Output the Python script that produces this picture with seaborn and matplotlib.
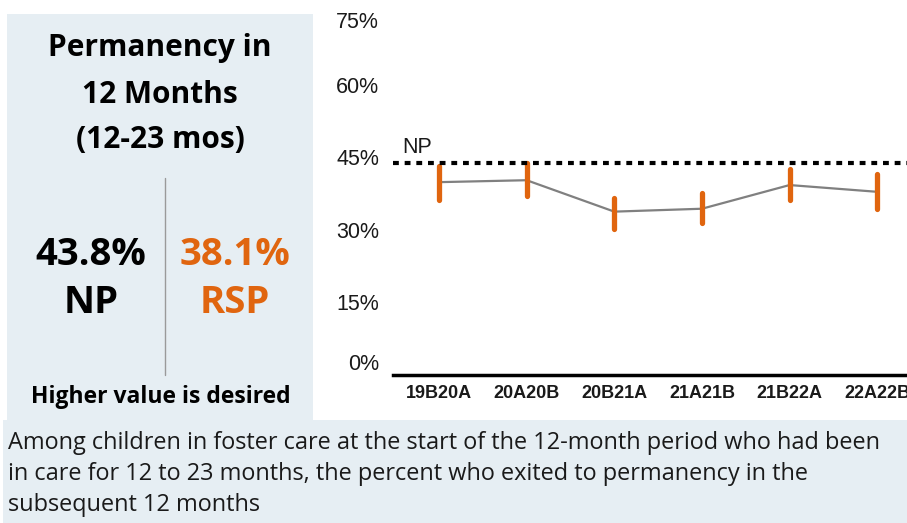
import matplotlib
matplotlib.use("Agg")
import matplotlib.pyplot as plt
from matplotlib.patches import Rectangle
from matplotlib.lines import Line2D
import pandas as pd
import seaborn as sns

# data
periods = ["19B20A", "20A20B", "20B21A", "21A21B", "21B22A", "22A22B"]
rsp = [39.9, 40.3, 33.8, 34.4, 39.3, 37.9]
ci_low = [36.2, 37.0, 30.3, 31.4, 36.2, 34.4]
ci_high = [43.2, 43.8, 36.7, 37.7, 42.6, 41.6]
np_value = 43.8
rsp_value = 38.1
yticks = [0, 15, 30, 45, 60, 75]

ORANGE = "#e0650f"
PANEL = "#e6eef3"
W, H = 907, 523

df = pd.DataFrame({"period": periods, "rsp": rsp, "lo": ci_low, "hi": ci_high})
df["x"] = range(len(df))

sns.set_style("white")
plt.rcParams["font.family"] = ["Liberation Sans", "DejaVu Sans"]
plt.rcParams["text.color"] = "black"

fig = plt.figure(figsize=(W / 100, H / 100), dpi=100)


def fx(px):
    return px / W


def fy(py):
    return 1 - py / H


# background panels
fig.add_artist(Rectangle((fx(7), fy(420)), fx(306), 406 / H, transform=fig.transFigure,
                         facecolor=PANEL, edgecolor="none", zorder=0))
fig.add_artist(Rectangle((fx(3), 0), fx(904), 103 / H, transform=fig.transFigure,
                         facecolor=PANEL, edgecolor="none", zorder=0))

# left summary panel
bold = dict(family=["Open Sans", "DejaVu Sans"], fontweight="bold", ha="center", va="center")
fig.text(fx(160), fy(48), "Permanency in", fontsize=21.5, color="black", **bold)
fig.text(fx(160), fy(95), "12 Months", fontsize=21.5, color="black", **bold)
fig.text(fx(160), fy(140), "(12-23 mos)", fontsize=21.5, color="black", **bold)
fig.text(fx(91), fy(255), f"{np_value}%", fontsize=27.5, color="black", **bold)
fig.text(fx(91), fy(303), "NP", fontsize=27.5, color="black", **bold)
fig.text(fx(235), fy(255), f"{rsp_value}%", fontsize=27.5, color=ORANGE, **bold)
fig.text(fx(235), fy(303), "RSP", fontsize=27.5, color=ORANGE, **bold)
fig.text(fx(161), fy(397), "Higher value is desired", fontsize=16.5, color="black", **bold)
fig.add_artist(Line2D([fx(165), fx(165)], [fy(178), fy(375)], transform=fig.transFigure,
                      color="#9a9a9a", lw=1))

# description
desc = ("Among children in foster care at the start of the 12-month period who had been\n"
        "in care for 12 to 23 months, the percent who exited to permanency in the\n"
        "subsequent 12 months")
fig.text(fx(8), fy(431), desc, fontsize=16.9, family=["Open Sans", "DejaVu Sans"],
         ha="left", va="top", linespacing=1.38, color="#1a1a1a")

# chart
ax = fig.add_axes([fx(393), fy(375), fx(907 - 393), (375 - 12.5) / H])
ax.set_facecolor("none")
sns.lineplot(data=df, x="x", y="rsp", ax=ax, color="#808080", lw=1.6, zorder=2)
ax.vlines(df["x"], df["lo"], df["hi"], color=ORANGE, lw=3.8, capstyle="round", zorder=3)
ax.axhline(np_value, color="black", lw=3, ls=(0, (1.4, 1.4)), zorder=4)
ax.text(-0.42, 45.9, "NP", fontsize=15.5, ha="left", va="baseline", color="#1a1a1a")

ax.set_xlim(-0.525, 5.34)
ax.set_ylim(0, 75)
ax.set_xticks(df["x"])
ax.set_xticklabels(periods, fontsize=13, fontweight="bold")
ax.set_yticks(yticks)
ax.set_yticklabels([f"{t}%" for t in yticks], fontsize=15.5)
ylabels = ax.get_yticklabels()
ylabels[0].set_va("bottom")
ylabels[-1].set_va("top")
ax.tick_params(axis="both", length=0, labelcolor="#1a1a1a")
ax.tick_params(axis="y", pad=10)
ax.tick_params(axis="x", pad=7)
ax.set_xlabel("")
ax.set_ylabel("")
for s in ["top", "right", "left"]:
    ax.spines[s].set_visible(False)
ax.spines["bottom"].set_linewidth(2.5)
ax.spines["bottom"].set_color("black")

fig.savefig("out.png", dpi=100)
